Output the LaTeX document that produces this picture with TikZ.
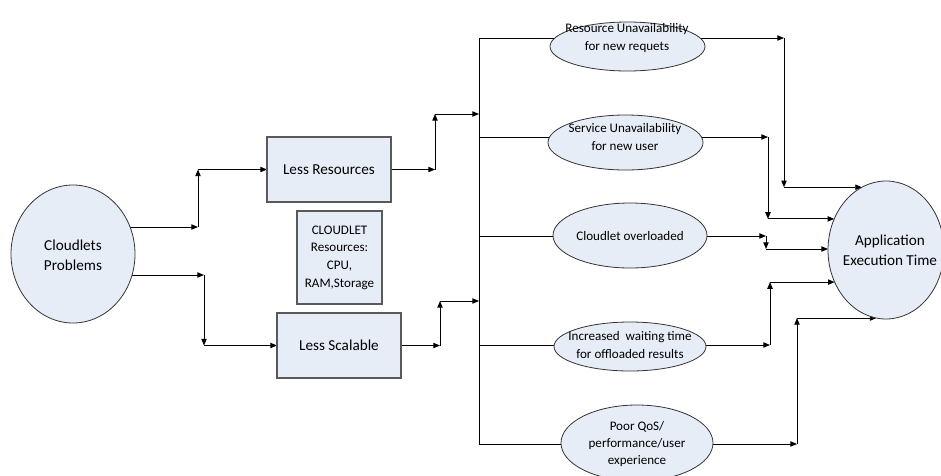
\documentclass[tikz,border=0pt]{standalone}
\usepackage{fontspec}
\setmainfont{Carlito}
\usetikzlibrary{arrows.meta,backgrounds,shapes.geometric}
\definecolor{paleblue}{RGB}{231,237,247}
\begin{document}
\begin{tikzpicture}[x=0.75pt,y=-0.75pt,
  box/.style={draw=black!65, line width=0.8pt, fill=paleblue, rectangle,
    inner sep=0pt, outer sep=0pt, align=center},
  oval/.style={draw=black!80, line width=0.6pt, fill=paleblue, ellipse,
    inner sep=0pt, outer sep=0pt},
  bigtxt/.style={align=center, inner sep=1pt, font=\fontsize{11.4}{15}\selectfont},
  smalltxt/.style={align=center, inner sep=1pt, font=\fontsize{9.8}{13}\selectfont},
  flow/.style={draw, line width=0.7pt, -{Triangle[length=5pt,width=4pt]}},
  wire/.style={draw, line width=0.7pt}]
\useasboundingbox (0,0) rectangle (941,475);

% source
\node[oval, minimum width=93pt, minimum height=103.5pt] (cp) at (73,254) {};
\node[bigtxt] (cpt) at (73,255) {Cloudlets\\Problems};

% middle boxes
\node[box, minimum width=93pt, minimum height=48.75pt,
  font=\fontsize{11.4}{15}\selectfont] (lr) at (329,169.5) {Less Resources};
\node[box, minimum width=63.75pt, minimum height=69.75pt,
  font=\fontsize{9.8}{13.2}\selectfont] (cr) at (339.5,257.5)
  {CLOUDLET\\Resources:\\CPU,\\RAM,Storage};
\node[box, minimum width=93pt, minimum height=48.75pt,
  font=\fontsize{11.4}{15}\selectfont] (ls) at (339,345.5) {Less Scalable};

% effects
\node[oval, minimum width=116.25pt, minimum height=36.75pt] (e1) at (627.5,46.5) {};
\node[smalltxt] (e1t) at (627,38) {Resource Unavailability\\for new requets};
\node[oval, minimum width=116.25pt, minimum height=41.25pt] (e2) at (625.5,142.5) {};
\node[smalltxt] (e2t) at (625,137) {Service Unavailability\\for new user};
\node[oval, minimum width=115.5pt, minimum height=48.75pt] (e3) at (630,235.5) {};
\node[smalltxt] (e3t) at (630,236) {Cloudlet overloaded};
\node[oval, minimum width=114pt, minimum height=36.75pt] (e4) at (630,346.5) {};
\node[smalltxt] (e4t) at (630,345) {Increased\ \ waiting time\\for offloaded results};
\node[oval, minimum width=114pt, minimum height=57pt] (e5) at (637,443) {};
\node[smalltxt] (e5t) at (637,444) {Poor QoS/\\performance/user\\experience};

% outcome
\node[oval, minimum width=87pt, minimum height=103.5pt] (app) at (886,250) {};
\node[bigtxt] (appt) at (890,250) {Application\\Execution Time};

% bends
\coordinate (a1) at (198,227);   \coordinate (a2) at (198,169.5);
\coordinate (b1) at (204,275);   \coordinate (b2) at (204,345.5);
\coordinate (c1) at (435,169.5); \coordinate (c2) at (435,114); \coordinate (c3) at (479,114);
\coordinate (d1) at (440,345.5); \coordinate (d2) at (440,301); \coordinate (d3) at (479,301);
\coordinate (bt) at (479,38);    \coordinate (bb) at (479,444);
\coordinate (f1) at (784,38);    \coordinate (f2) at (f1 |- app.111);
\coordinate (g1) at (768,137);   \coordinate (g2) at (g1 |- app.149);
\coordinate (h1) at (766,236);   \coordinate (h2) at (h1 |- app.179);
\coordinate (i1) at (770,345);   \coordinate (i2) at (i1 |- app.212);
\coordinate (j1) at (797,444);   \coordinate (j2) at (j1 |- app.262);

\begin{scope}[on background layer]
  % problems to the two causes
  \draw[flow] (a1 -| cp) -- (a1);
  \draw[flow] (a1) -- (a2);
  \draw[flow] (a2) -- (lr);
  \draw[flow] (b1 -| cp) -- (b1);
  \draw[flow] (b1) -- (b2);
  \draw[flow] (b2) -- (ls);
  % causes to the bus
  \draw[flow] (lr) -- (c1);
  \draw[flow] (c1) -- (c2);
  \draw[flow] (c2) -- (c3);
  \draw[flow] (ls) -- (d1);
  \draw[flow] (d1) -- (d2);
  \draw[flow] (d2) -- (d3);
  % bus and its branches
  \draw[wire] (bt) -- (bb);
  \draw[wire] (bt) -- (e1t);
  \draw[wire] (e2t -| bt) -- (e2t);
  \draw[wire] (e3t -| bt) -- (e3t);
  \draw[wire] (e4t -| bt) -- (e4t);
  \draw[wire] (bb) -- (e5t);
  % effects to execution time
  \draw[flow] (e1t) -- (f1);
  \draw[flow] (f1) -- (f2);
  \draw[flow] (f2) -- (app.111);
  \draw[flow] (e2t) -- (g1);
  \draw[flow] (g1) -- (g2);
  \draw[flow] (g2) -- (app.149);
  \draw[flow] (e3t) -- (h1);
  \draw[flow] (h1) -- (h2);
  \draw[flow] (h2) -- (app.179);
  \draw[flow] (e4t) -- (i1);
  \draw[flow] (i1) -- (i2);
  \draw[flow] (i2) -- (app.212);
  \draw[flow] (e5t) -- (j1);
  \draw[flow] (j1) -- (j2);
  \draw[flow] (j2) -- (app.262);
\end{scope}
\end{tikzpicture}
\end{document}
